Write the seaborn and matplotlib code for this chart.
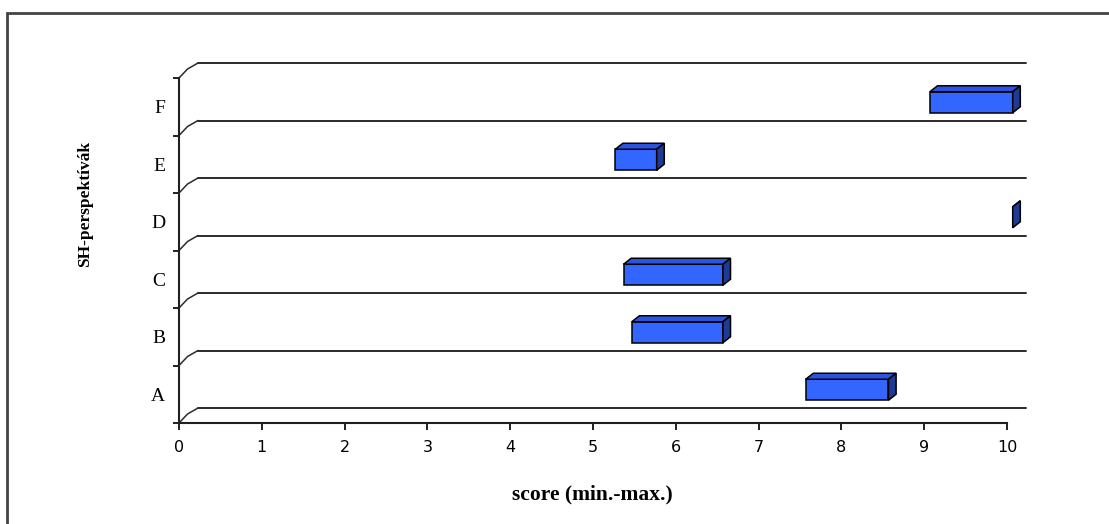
import numpy as np
import matplotlib
matplotlib.use('Agg')
import matplotlib.pyplot as plt
import seaborn as sns
from matplotlib.patches import Rectangle

sns.set_theme(style='white')
plt.rcParams['font.family'] = ['Liberation Serif', 'DejaVu Serif']
plt.rcParams['text.color'] = 'black'
plt.rcParams['xtick.color'] = 'black'
plt.rcParams['ytick.color'] = 'black'

# Data: score ranges (min - max) per SH-perspective
categories = ['A', 'B', 'C', 'D', 'E', 'F']
score_min = [7.5, 5.4, 5.3, 10.0, 5.2, 9.0]
score_max = [8.5, 6.5, 6.5, 10.0, 5.7, 10.0]
xticks = list(range(0, 11))

W, H = 1109, 524
fig = plt.figure(figsize=(W / 100, H / 100), dpi=100)

# pseudo 3D geometry (Excel-like oblique depth)
px_x = 82.8          # pixels per score unit
px_y = 57.5          # pixels per category
DX = 19 / px_x       # full depth offset in data units
DY = 15 / px_y

left_px, bottom_px = 179, H - 423
ax_w = px_x * (10 + DX)
ax_h = px_y * (6 + DY)
ax = fig.add_axes([left_px / W, bottom_px / H, ax_w / W, ax_h / H])
ax.set_xlim(0, 10 + DX)
ax.set_ylim(-0.5, 5.5 + DY)
ax.patch.set_alpha(0)

ypos = np.arange(len(categories))
bounds = np.arange(-0.5, len(categories), 1.0)

# back wall lines and the little connectors from the front axis
grid_col = '#2b2b2b'
for b in bounds:
    ax.plot([DX, 10 + DX], [b + DY, b + DY], color=grid_col, lw=1.4, clip_on=False, zorder=1)
    ax.plot([0, DX * 0.45, DX], [b, b + DY * 0.6, b + DY], color=grid_col, lw=1.1, clip_on=False, zorder=1)

# bars: front face, top face, side face
front_col = '#3366ff'
top_col = '#2b55e0'
side_col = '#1f3a94'
bh = 0.365
d0, d1 = 0.3, 0.7
for y, lo, hi in zip(ypos, score_min, score_max):
    fx, fy = lo + d0 * DX, y + d0 * DY - bh / 2
    ox, oy = (d1 - d0) * DX, (d1 - d0) * DY
    ax.barh(y + d0 * DY, hi - lo, left=lo + d0 * DX, height=bh, color=front_col,
            edgecolor='black', lw=1.1, zorder=3, clip_on=False)
    rx = hi + d0 * DX
    ax.fill([fx, rx, rx + ox, fx + ox], [fy + bh, fy + bh, fy + bh + oy, fy + bh + oy],
            color=top_col, ec='black', lw=1.1, zorder=3, clip_on=False)
    ax.fill([rx, rx + ox, rx + ox, rx], [fy, fy + oy, fy + bh + oy, fy + bh],
            color=side_col, ec='black', lw=1.1, zorder=3, clip_on=False)

# axes lines
for s in ['top', 'right']:
    ax.spines[s].set_visible(False)
ax.spines['left'].set_bounds(-0.5, 5.5)
ax.spines['bottom'].set_bounds(0, 10)
for s in ['left', 'bottom']:
    ax.spines[s].set_color('#202020')
    ax.spines[s].set_linewidth(1.5)

ax.set_xticks(xticks)
ax.set_xticklabels([str(t) for t in xticks], family=['DejaVu Sans'], fontsize=11.5)
ax.tick_params(axis='x', bottom=True, direction='out', length=5, width=1.4, color='#202020', pad=7)
ax.set_yticks(ypos)
ax.set_yticklabels(categories, fontsize=14)
ax.set_yticks(bounds, minor=True)
ax.tick_params(axis='y', which='major', left=True, length=0, pad=10)
ax.tick_params(axis='y', which='minor', left=True, direction='out', length=4, width=1.4, color='#202020')

fig.text(592 / W, 1 - 494 / H, 'score (min.-max.)', ha='center', va='center',
         fontsize=15.5, fontweight='bold')
fig.text(85 / W, 1 - 204 / H, 'SH-perspektívák', ha='center', va='center',
         rotation=90, fontsize=12.5, fontweight='bold')

# outer chart border
fig.patches.append(Rectangle((7 / W, -0.1), 1.2, 1.1 - 13 / H, transform=fig.transFigure,
                             fill=False, ec='#444444', lw=2))

fig.savefig('out.png', dpi=100)
